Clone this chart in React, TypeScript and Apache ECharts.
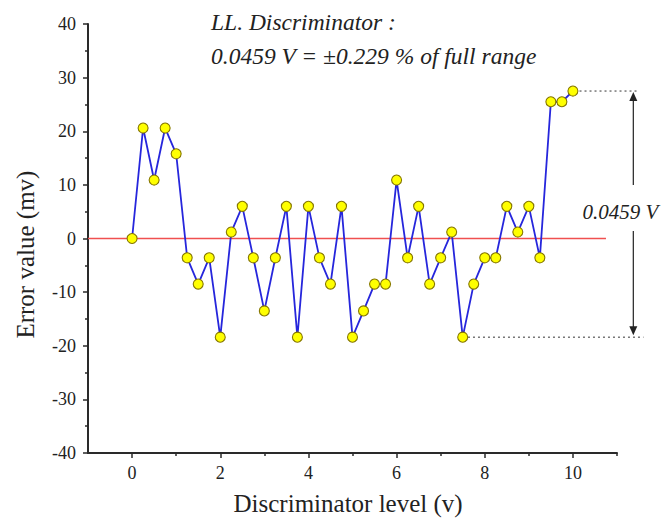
import React, { useEffect, useRef } from "react";
import * as echarts from "echarts";

const xValues = [
  0, 0.25, 0.5, 0.75, 1, 1.25, 1.5, 1.75, 2, 2.25, 2.5, 2.75, 3, 3.25, 3.5, 3.75,
  4, 4.25, 4.5, 4.75, 5, 5.25, 5.5, 5.75, 6, 6.25, 6.5, 6.75, 7, 7.25, 7.5, 7.75,
  8, 8.25, 8.5, 8.75, 9, 9.25, 9.5, 9.75, 10,
];
const errorValues = [
  0, 20.6, 10.9, 20.6, 15.8, -3.6, -8.5, -3.6, -18.4, 1.2, 6.0, -3.6, -13.5, -3.6, 6.0, -18.4,
  6.0, -3.6, -8.5, 6.0, -18.4, -13.5, -8.5, -8.5, 10.9, -3.6, 6.0, -8.5, -3.6, 1.2, -18.4, -8.5,
  -3.6, -3.6, 6.0, 1.2, 6.0, -3.6, 25.5, 25.5, 27.5,
];
const zeroLine = [
  [-1, 0],
  [10.75, 0],
];
const xMajorTicks = [0, 2, 4, 6, 8, 10];
const xMinorTicks = [1, 3, 5, 7, 9, 11];
const xAxisTitle = "Discriminator level (v)";
const yAxisTitle = "Error value (mv)";
const titleLine1 = "LL. Discriminator :";
const titleLine2 = "0.0459 V = \u00b10.229 % of full range";
const spanLabel = "0.0459 V";
const spanTop = 27.5;
const spanBottom = -18.4;

const FONT = "Liberation Serif, DejaVu Serif, serif";

export default function App() {
  const ref = useRef<HTMLDivElement>(null);
  useEffect(() => {
    if (!ref.current) return;
    const chart = echarts.init(ref.current, null, { renderer: "svg" });
    const axisColor = "#2a2a2a";
    const option: any = {
      animation: false,
      backgroundColor: "#fff",
      textStyle: { fontFamily: FONT },
      grid: { left: 88, top: 24, width: 529, height: 429 },
      xAxis: [
        {
          type: "value",
          min: -1,
          max: 11,
          axisLine: { show: true, onZero: false, lineStyle: { color: axisColor, width: 2 } },
          axisTick: { show: true, customValues: xMajorTicks, length: 5, lineStyle: { color: axisColor, width: 1.5 } },
          axisLabel: { customValues: xMajorTicks, margin: 11, fontFamily: FONT, fontSize: 18, color: "#222" },
          splitLine: { show: false },
        },
        {
          type: "value",
          min: -1,
          max: 11,
          position: "bottom",
          axisLine: { show: false, onZero: false },
          axisTick: { show: true, customValues: xMinorTicks, length: 3, lineStyle: { color: axisColor, width: 1.5 } },
          axisLabel: { show: false },
          splitLine: { show: false },
        },
      ],
      yAxis: {
        type: "value",
        min: -40,
        max: 40,
        interval: 10,
        axisLine: { show: true, onZero: false, lineStyle: { color: axisColor, width: 2 } },
        axisTick: { show: true, length: 5, lineStyle: { color: axisColor, width: 1.5 } },
        minorTick: { show: true, splitNumber: 2, length: 3, lineStyle: { color: axisColor, width: 1.5 } },
        axisLabel: { margin: 12, fontFamily: FONT, fontSize: 18, color: "#222" },
        splitLine: { show: false },
      },
      series: [
        {
          type: "line",
          data: zeroLine,
          symbol: "none",
          lineStyle: { color: "#f05050", width: 1.5 },
          z: 1,
          silent: true,
        },
        {
          type: "line",
          data: xValues.map((x, i) => [x, errorValues[i]]),
          symbol: "circle",
          symbolSize: 10,
          lineStyle: { color: "#2626dc", width: 1.8 },
          itemStyle: { color: "#ffff00", borderColor: "#857600", borderWidth: 1.1 },
          z: 3,
        },
      ],
    };
    chart.setOption(option);

    const px = (x: number, y: number) =>
      chart.convertToPixel({ xAxisIndex: 0, yAxisIndex: 0 }, [x, y]) as number[];
    const topL = px(10.15, spanTop);
    const topR = px(11.47, spanTop);
    const botL = px(7.62, spanBottom);
    const botR = px(11.6, spanBottom);
    const arrowX = px(11.37, 0)[0];
    const upEnd = px(0, 10)[1];
    const downStart = px(0, 1.4)[1];
    const labelPos = px(10.22, 4.9);
    const xTitlePos = px(4.9, -40);
    const yTitlePos = px(-1, -3);
    const dashed = { stroke: "#333", lineWidth: 1, lineDash: [2, 3] };
    const arrowStyle = { stroke: "#222", lineWidth: 1.2 };
    const textBase = { fontFamily: FONT, fontStyle: "italic", fontSize: 23.5, fill: "#222", verticalAlign: "middle" };
    chart.setOption({
      graphic: [
        { type: "line", shape: { x1: topL[0], y1: topL[1], x2: topR[0], y2: topR[1] }, style: dashed },
        { type: "line", shape: { x1: botL[0], y1: botL[1], x2: botR[0], y2: botR[1] }, style: dashed },
        { type: "line", shape: { x1: arrowX, y1: topL[1] + 6, x2: arrowX, y2: upEnd }, style: arrowStyle },
        {
          type: "polygon",
          shape: { points: [[arrowX, topL[1] + 1], [arrowX - 4, topL[1] + 10], [arrowX + 4, topL[1] + 10]] },
          style: { fill: "#222" },
        },
        { type: "line", shape: { x1: arrowX, y1: downStart, x2: arrowX, y2: botL[1] - 6 }, style: arrowStyle },
        {
          type: "polygon",
          shape: { points: [[arrowX, botL[1] - 2], [arrowX - 4, botL[1] - 11], [arrowX + 4, botL[1] - 11]] },
          style: { fill: "#222" },
        },
        {
          type: "text",
          x: labelPos[0],
          y: labelPos[1],
          z: 10,
          style: { ...textBase, text: spanLabel, fontSize: 21, align: "left", backgroundColor: "#fff" },
        },
        { type: "text", x: 211, y: 22, style: { ...textBase, text: titleLine1 } },
        { type: "text", x: 211, y: 56, style: { ...textBase, text: titleLine2 } },
        {
          type: "text",
          x: xTitlePos[0],
          y: xTitlePos[1] + 50,
          style: { text: xAxisTitle, fontFamily: FONT, fontSize: 25, fill: "#222", align: "center", verticalAlign: "middle" },
        },
        {
          type: "text",
          x: yTitlePos[0] - 63,
          y: yTitlePos[1],
          rotation: Math.PI / 2,
          style: { text: yAxisTitle, fontFamily: FONT, fontSize: 25, fill: "#222", align: "center", verticalAlign: "middle" },
        },
      ],
    });
    return () => chart.dispose();
  }, []);
  return (
    <div
      ref={ref}
      style={{ position: "fixed", left: 0, top: 0, width: 661, height: 524, background: "#fff" }}
    />
  );
}
